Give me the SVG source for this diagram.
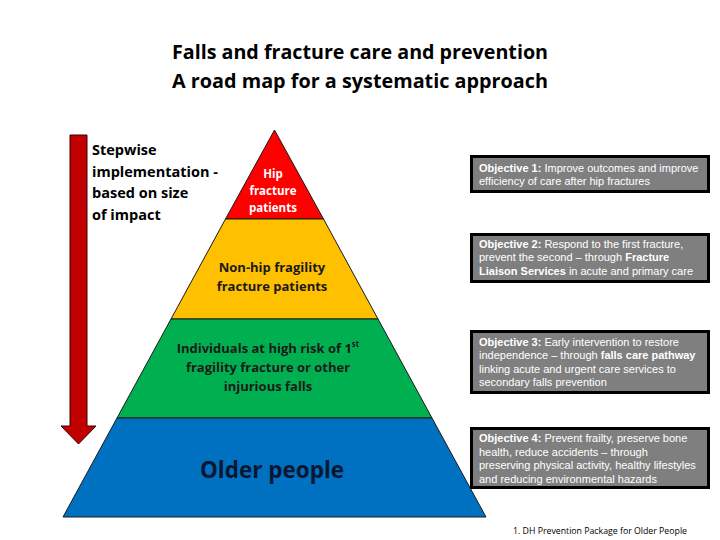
<svg xmlns="http://www.w3.org/2000/svg" width="720" height="540" viewBox="0 0 720 540">
<style>
.title{font-family:"Open Sans","Liberation Sans",sans-serif;font-weight:bold;font-size:19px;fill:#000}
.side{font-family:"Open Sans","Liberation Sans",sans-serif;font-weight:bold;font-size:14.5px;fill:#000}
.lay{font-family:"Open Sans","Liberation Sans",sans-serif;font-weight:bold;text-anchor:middle}
.obj rect{fill:#7f7f7f;stroke:#000;stroke-width:3}
.obj text{font-family:"Liberation Sans",Arial,sans-serif;font-size:11px;fill:#fff}
.b{font-weight:bold}
.tier{stroke:#1a1a1a;stroke-width:1}
</style>
<g id="title">
<text class="title" x="360" y="59" text-anchor="middle" textLength="376" lengthAdjust="spacingAndGlyphs">Falls and fracture care and prevention</text>
<text class="title" x="360" y="88" text-anchor="middle" textLength="376" lengthAdjust="spacingAndGlyphs">A road map for a systematic approach</text>
</g>
<g id="arrow">
<path d="M70,135 H87 V426 H96 L78.5,444 L61,426 H70 Z" fill="#c00000" stroke="#3a0000" stroke-width="1"/>
</g>
<g id="stepwise">
<text class="side" x="92" y="155">Stepwise</text>
<text class="side" x="92" y="177">implementation -</text>
<text class="side" x="92" y="198">based on size</text>
<text class="side" x="92" y="220">of impact</text>
</g>
<g id="tier-hip">
<polygon class="tier" points="274.5,130 323.5,219 225.5,219" fill="#ff0000"/>
<text class="lay" x="273" y="178" font-size="11.5" fill="#fff">Hip</text>
<text class="lay" x="273" y="195" font-size="11.5" fill="#fff">fracture</text>
<text class="lay" x="273" y="212" font-size="11.5" fill="#fff">patients</text>
</g>
<g id="tier-nonhip">
<polygon class="tier" points="225.5,219 323.5,219 378,319 171,319" fill="#ffc000"/>
<text class="lay" x="272" y="272" font-size="13" fill="#1a1a1a">Non-hip fragility</text>
<text class="lay" x="272" y="291" font-size="13" fill="#1a1a1a">fracture patients</text>
</g>
<g id="tier-risk">
<polygon class="tier" points="171,319 378,319 432,418 117,418" fill="#00b050"/>
<text class="lay" x="268" y="353" font-size="13" fill="#1a1a1a">Individuals at high risk of 1<tspan font-size="8" dy="-6">st</tspan></text>
<text class="lay" x="268" y="372" font-size="13" fill="#1a1a1a">fragility fracture or other</text>
<text class="lay" x="268" y="391" font-size="13" fill="#1a1a1a">injurious falls</text>
</g>
<g id="tier-older">
<polygon class="tier" points="117,418 432,418 486,517 63,517" fill="#0070c0"/>
<text class="lay" x="272" y="478" font-size="22.5" fill="#0a1632" font-weight="600">Older people</text>
</g>
<g id="obj1" class="obj">
<rect x="471.5" y="156.5" width="237" height="35"/>
<text x="479" y="172"><tspan class="b">Objective 1:</tspan> Improve outcomes and improve</text>
<text x="479" y="185">efficiency of care after hip fractures</text>
</g>
<g id="obj2" class="obj">
<rect x="471.5" y="234.5" width="237" height="47"/>
<text x="479" y="248"><tspan class="b">Objective 2:</tspan> Respond to the first fracture,</text>
<text x="479" y="261">prevent the second – through <tspan class="b">Fracture</tspan></text>
<text x="479" y="275"><tspan class="b">Liaison Services</tspan> in acute and primary care</text>
</g>
<g id="obj3" class="obj">
<rect x="471.5" y="331.5" width="237" height="61"/>
<text x="479" y="346"><tspan class="b">Objective 3:</tspan> Early intervention to restore</text>
<text x="479" y="359">independence – through <tspan class="b">falls care pathway</tspan></text>
<text x="479" y="373">linking acute and urgent care services to</text>
<text x="479" y="386">secondary falls prevention</text>
</g>
<g id="obj4" class="obj">
<rect x="471.5" y="428.5" width="237" height="59"/>
<text x="479" y="442"><tspan class="b">Objective 4:</tspan> Prevent frailty, preserve bone</text>
<text x="479" y="456">health, reduce accidents – through</text>
<text x="479" y="469">preserving physical activity, healthy lifestyles</text>
<text x="479" y="483">and reducing environmental hazards</text>
</g>
<g id="footnote">
<text x="513" y="534" font-family="'Open Sans','Liberation Sans',sans-serif" font-size="8.5" fill="#000" textLength="174" lengthAdjust="spacingAndGlyphs">1. DH Prevention Package for Older People</text>
</g>
<g id="connectors"></g>
</svg>
